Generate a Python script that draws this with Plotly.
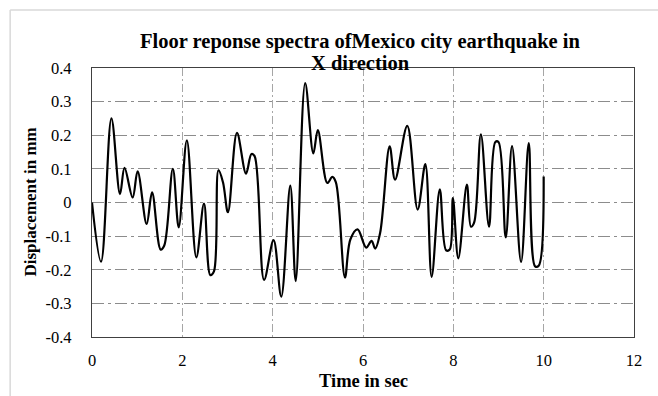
import plotly.graph_objects as go

# Extrema / key points
time_s = [0.00, 0.20, 0.43, 0.62, 0.72, 0.90, 1.01, 1.21, 1.33, 1.52, 1.60, 1.79, 1.92, 2.10,
          2.31, 2.48, 2.62, 2.70, 2.80, 2.90, 3.01, 3.21, 3.41, 3.53, 3.60, 3.81, 4.02, 4.19,
          4.39, 4.51, 4.72, 4.90, 5.00, 5.21, 5.32, 5.40, 5.60, 5.72, 5.88, 6.07, 6.19, 6.27,
          6.38, 6.59, 6.71, 6.98, 7.21, 7.38, 7.52, 7.70, 7.84, 7.92, 7.99, 8.11, 8.30, 8.39,
          8.46, 8.61, 8.79, 8.93, 9.00, 9.16, 9.30, 9.50, 9.67, 9.81, 9.89, 10.00]
disp_mm = [0.000, -0.176, 0.250, 0.025, 0.103, 0.015, 0.093, -0.064, 0.030, -0.140, -0.128, 0.100,
           -0.074, 0.185, -0.163, -0.003, -0.216, -0.205, 0.096, 0.060, -0.029, 0.207, 0.086, 0.144,
           0.138, -0.230, -0.112, -0.280, 0.050, -0.234, 0.355, 0.146, 0.215, 0.058, 0.076, 0.060,
           -0.223, -0.110, -0.080, -0.134, -0.114, -0.137, -0.090, 0.167, 0.068, 0.228, -0.021,
           0.114, -0.221, 0.039, -0.142, -0.140, 0.013, -0.166, 0.053, -0.072, -0.060, 0.203,
           -0.072, 0.180, 0.180, -0.104, 0.168, -0.177, 0.177, -0.190, -0.188, 0.077]

x_ticks = [0, 2, 4, 6, 8, 10, 12]
y_ticks = [-0.4, -0.3, -0.2, -0.1, 0, 0.1, 0.2, 0.3, 0.4]
y_ticklabels = ["-0.4", "-0.3", "-0.2", "-0.1", "0", "0.1", "0.2", "0.3", "0.4"]

title_line1 = "Floor reponse spectra ofMexico city earthquake in"
title_line2 = "X direction"
x_title = "Time in sec"
y_title = "Displacement in mm"

serif = "Liberation Serif, Times New Roman, serif"

fig = go.Figure()
fig.add_trace(go.Scatter(x=time_s, y=disp_mm, mode="lines",
                         line=dict(color="black", width=2.2, shape="spline", smoothing=1.0),
                         showlegend=False, hoverinfo="skip"))

fig.update_layout(
    width=658, height=396,
    margin=dict(l=92, r=24, t=68, b=59),
    paper_bgcolor="white", plot_bgcolor="white",
    font=dict(family=serif, color="black", size=16),
    xaxis=dict(range=[0, 12], tickvals=x_ticks, ticktext=[str(v) for v in x_ticks],
               showgrid=True, gridcolor="#a6a6a6", gridwidth=1, griddash="8px,3px,2px,3px",
               showline=True, linecolor="#404040", linewidth=1.3, mirror=True,
               zeroline=False, ticks="", ticklabelstandoff=8,
               tickfont=dict(family=serif, size=16.5)),
    yaxis=dict(range=[-0.4, 0.4], tickvals=y_ticks, ticktext=y_ticklabels,
               showgrid=True, gridcolor="#8c8c8c", gridwidth=1.3, griddash="12px,4px,3px,4px",
               showline=True, linecolor="#404040", linewidth=1.3, mirror=True,
               zeroline=False, ticks="", ticklabelstandoff=16,
               tickfont=dict(family=serif, size=16.5)),
    annotations=[
        dict(text="<b>" + title_line1 + "</b>",
             xref="paper", yref="paper", x=0.495, y=1, xanchor="center", yanchor="middle",
             yshift=27, showarrow=False, font=dict(family=serif, size=20.5, color="black")),
        dict(text="<b>" + title_line2 + "</b>",
             xref="paper", yref="paper", x=0.495, y=1, xanchor="center", yanchor="middle",
             yshift=5, showarrow=False, font=dict(family=serif, size=20.5, color="black")),
        dict(text="<b>" + x_title + "</b>", xref="paper", yref="paper", x=0.5, y=0,
             xanchor="center", yanchor="middle", yshift=-44, showarrow=False,
             font=dict(family=serif, size=18.5, color="black")),
        dict(text="<b>" + y_title + "</b>", xref="paper", yref="paper", x=0, y=0.5,
             xanchor="center", yanchor="middle", xshift=-62, textangle=-90, showarrow=False,
             font=dict(family=serif, size=17, color="black")),
    ],
    shapes=[
        dict(type="line", xref="paper", yref="paper", x0=-0.151, x1=-0.151, y0=1.216, y1=-0.3,
             line=dict(color="#d9d9d9", width=1.5)),
        dict(type="line", xref="paper", yref="paper", x0=-0.151, x1=1.1, y0=1.216, y1=1.216,
             line=dict(color="#d9d9d9", width=1.5)),
    ],
)

fig.write_html("out.html")
